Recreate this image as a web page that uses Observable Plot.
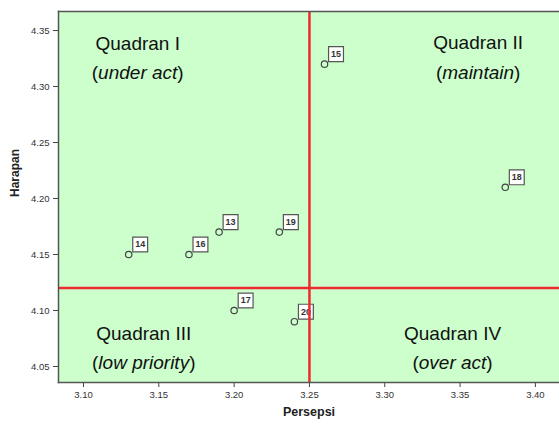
<!DOCTYPE html>
<html><head><meta charset="utf-8">
<script src="https://cdn.jsdelivr.net/npm/d3@7"></script>
<script src="https://cdn.jsdelivr.net/npm/@observablehq/plot@0.6"></script>
<style>body{margin:0;background:#fff} svg{font-family:"Liberation Sans",Arial,sans-serif}</style>
</head><body><div id="chart"></div>
<script>
const ids = ["13","14","15","16","17","18","19","20"];
const persepsi = [3.19,3.13,3.26,3.17,3.20,3.38,3.23,3.24];
const harapan = [4.17,4.15,4.32,4.15,4.10,4.21,4.17,4.09];
const xTicks = [3.10,3.15,3.20,3.25,3.30,3.35,3.40];
const yTicks = [4.05,4.10,4.15,4.20,4.25,4.30,4.35];
const xMean = [3.25];
const yMean = [4.12];
const quadTitles = ["Quadran I","Quadran II","Quadran III","Quadran IV"];
const quadNotes = ["(under act)","(maintain)","(low priority)","(over act)"];
const quadX = [3.136, 3.362, 3.140, 3.345];
const quadTitleY = [4.3384, 4.3393, 4.0795, 4.0795];
const quadNoteY = [4.3125, 4.3125, 4.0536, 4.0536];

const pts = ids.map((id,i)=>({id, x: persepsi[i], y: harapan[i]}));
const quads = quadTitles.map((t,i)=>({t, n: quadNotes[i], x: quadX[i], ty: quadTitleY[i], ny: quadNoteY[i]}));

const chart = Plot.plot({
  width: 559, height: 424,
  marginLeft: 58, marginRight: 0, marginTop: 11, marginBottom: 42,
  x: {domain: [3.0834, 3.416]},
  y: {domain: [4.0357, 4.367]},
  marks: [
    Plot.frame({fill: "#ccffcc"}),
    Plot.axisX({ticks: xTicks, tickFormat: ".2f", tickSize: 5, fontSize: 9.5, label: null, stroke: "#444", fill: "#333"}),
    Plot.axisY({ticks: yTicks, tickFormat: ".2f", tickSize: 5, fontSize: 9.5, label: null, stroke: "#444", fill: "#333"}),
    Plot.text(quads, {x: "x", y: "ty", text: "t", fontSize: 19, fill: "#111"}),
    Plot.text(quads, {x: "x", y: "ny", text: "n", fontSize: 19, fill: "#111"}),
    Plot.dot(pts, {x: "x", y: "y", r: 3.2, stroke: "#444", strokeWidth: 1.2, fill: "none"}),
    Plot.dot(pts, {x: "x", y: "y", symbol: "square", r: 8.4, dx: 11.5, dy: -10, fill: "white", stroke: "#555", strokeWidth: 1.2}),
    Plot.text(pts, {x: "x", y: "y", text: "id", dx: 11.5, dy: -10, fontSize: 9, fontWeight: "bold", fill: "#333"}),
    Plot.ruleX(xMean, {stroke: "#ee2a30", strokeWidth: 2.5}),
    Plot.ruleY(yMean, {stroke: "#ee2a30", strokeWidth: 2.5}),
    Plot.frame({anchor: "left", stroke: "#555", strokeWidth: 1.5}),
    Plot.frame({anchor: "top", stroke: "#555", strokeWidth: 1.5}),
    Plot.frame({anchor: "bottom", stroke: "#555", strokeWidth: 1.5}),
    Plot.text(["Persepsi"], {frameAnchor: "bottom", dy: 33, text: d => d, fontSize: 12.5, fontWeight: "bold", fill: "#222"}),
    Plot.text(["Harapan"], {frameAnchor: "left", dx: -43, rotate: -90, text: d => d, fontSize: 12, fontWeight: "bold", fill: "#222"})
  ]
});

d3.select(chart).selectAll("text").each(function() {
  const t = this.textContent;
  const m = /^\((.*)\)$/.exec(t);
  if (m && this.childNodes.length === 1 && this.firstChild.nodeType === 3) {
    const sel = d3.select(this);
    sel.text(null);
    sel.append("tspan").text("(");
    sel.append("tspan").attr("font-style", "italic").text(m[1]);
    sel.append("tspan").text(")");
  }
});

document.getElementById("chart").appendChild(chart);
</script>
</body></html>
